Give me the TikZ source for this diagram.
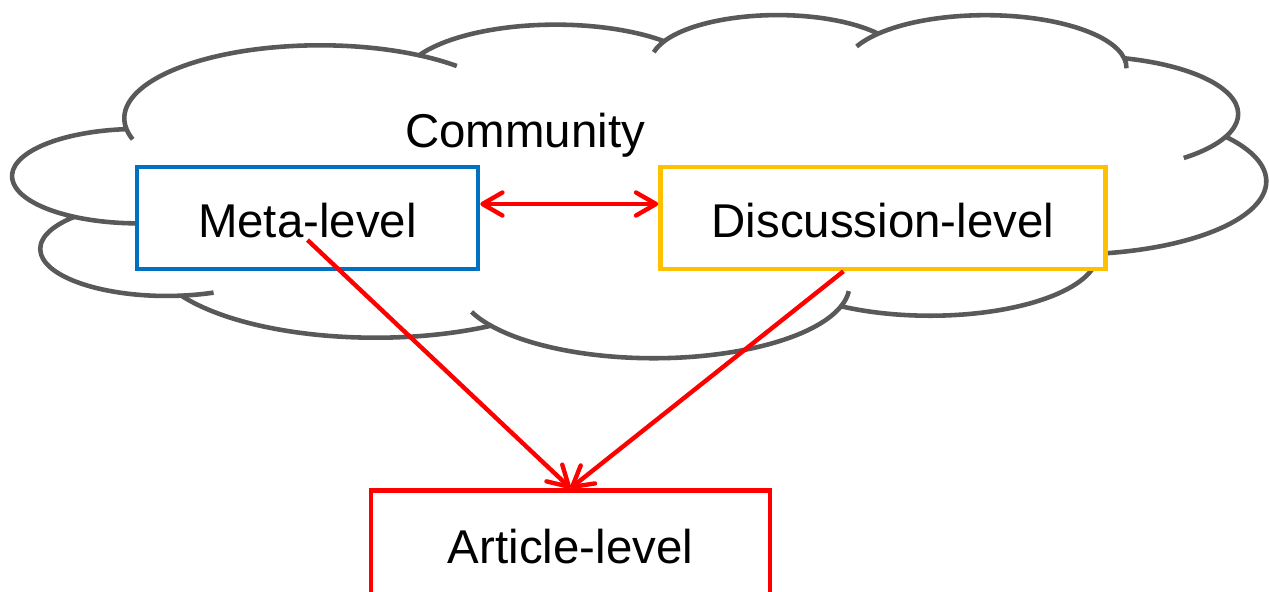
\documentclass[tikz,border=0pt]{standalone}
\usepackage{fontspec}
\setmainfont{Liberation Sans}
\usetikzlibrary{positioning,arrows.meta}

\definecolor{cloudgray}{HTML}{595959}
\definecolor{metablue}{HTML}{0070C0}
\definecolor{discyellow}{HTML}{FFC000}
\definecolor{artred}{HTML}{FF0000}

\tikzset{
  levelbox/.style={draw, fill=white, line width=2.6pt, minimum height=2.04cm,
    inner sep=0pt, text height=0.8cm, text depth=0pt,
    font=\fontsize{27}{32}\selectfont},
  relarrow/.style={artred, line width=2.5pt},
  cloudline/.style={cloudgray, line width=2.6pt, line join=round},
  >={Straight Barb[length=0.4cm,width=0.46cm,round]}
}

\begin{document}
\begin{tikzpicture}[x=0.02cm,y=-0.02cm]
\useasboundingbox (0,0) rectangle (1269,592);
\clip (0,0) rectangle (1269,592);
\fill[white] (0,0) rectangle (1269,592);

% the cloud
\begin{scope}[shift={(13,14)}, x=1cm, y=1cm, xscale=0.5801, yscale=-0.15883, cloudline]
\draw (3.900,14.370)
  arc[start angle=172.25, end angle=300.36, x radius=6.753, y radius=9.190]
  arc[start angle=-152.05, end angle=-45.45, x radius=5.333, y radius=7.267]
  arc[start angle=-153.49, end angle=-37.31, x radius=4.365, y radius=5.945]
  arc[start angle=-139.71, end angle=-10.21, x radius=4.857, y radius=6.595]
  arc[start angle=-74.77, end angle=23.21, x radius=5.333, y radius=7.273]
  arc[start angle=-37.50, end angle=81.86, x radius=6.775, y radius=9.220]
  arc[start angle=0.46, end angle=121.97, x radius=5.785, y radius=7.867]
  arc[start angle=16.84, end angle=146.21, x radius=6.752, y radius=9.215]
  arc[start angle=58.98, end angle=150.18, x radius=7.720, y radius=10.543]
  arc[start angle=83.31, end angle=223.11, x radius=4.360, y radius=5.918]
  arc[start angle=120.36, end angle=264.11, x radius=4.345, y radius=5.945]
  -- cycle;
% inner ends of the lobes
\foreach \cx/\cy/\rx/\ry/\ta/\tb in {
    10.591/13.131/6.753/9.190/163.19/172.25,
    10.591/13.131/6.753/9.190/-59.64/-45.74,
    26.363/6.082/4.365/5.945/-167.73/-153.49,
    33.540/6.743/4.857/6.595/-156.30/-139.71,
    33.540/6.743/4.857/6.595/-10.21/0.82,
    36.919/12.592/5.333/7.273/23.21/49.64,
    31.619/30.135/5.785/7.867/-64.03/0.46,
    22.094/34.139/6.752/9.215/4.74/16.84,
    22.094/34.139/6.752/9.215/146.21/158.47,
    5.299/29.594/4.360/5.918/68.23/83.31,
    4.311/20.423/4.345/5.945/85.55/120.36}
  \draw (\cx,\cy) ++(\ta:{\rx} and {\ry})
    arc[start angle=\ta, end angle=\tb, x radius=\rx, y radius=\ry];
\end{scope}

\node[font=\fontsize{27}{32}\selectfont, anchor=base] (community) at (525,147) {Community};
\node[levelbox, draw=metablue, minimum width=6.82cm] (meta) at (307.5,218) {Meta-level};
\node[levelbox, draw=discyellow, minimum width=8.9cm] (disc) [right=3.56cm of meta] {Discussion-level};
\node[levelbox, draw=artred, minimum width=7.98cm, minimum height=2.1cm] (article) at (570.5,543) {Article-level};

\path[relarrow] ([yshift=0.28cm]meta.east) edge[<->] ([yshift=0.28cm]disc.west);
\path[relarrow] ([yshift=-0.44cm]meta.center) edge[->] (article.north);
\path[relarrow] ([xshift=-0.79cm]disc.south) edge[->] (article.north);
\end{tikzpicture}
\end{document}
